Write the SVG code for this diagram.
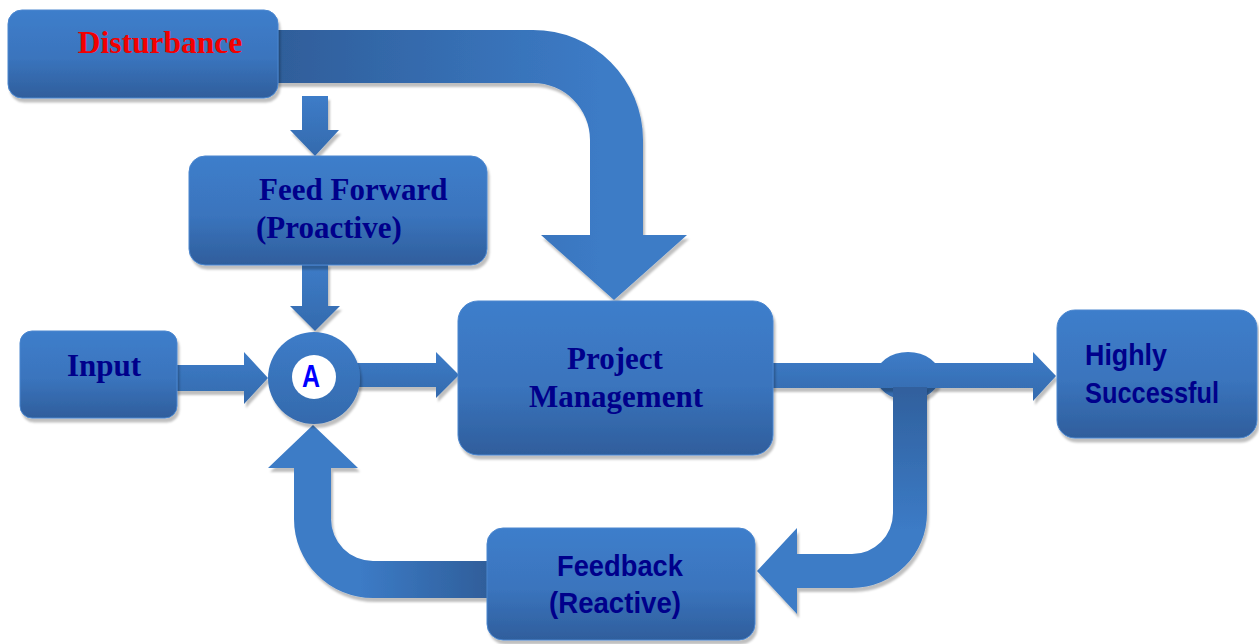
<svg xmlns="http://www.w3.org/2000/svg" width="1259" height="644" viewBox="0 0 1259 644">
<style>
.box{fill:url(#boxg);stroke:#4a86cf;stroke-width:1;filter:url(#sh)}
.arr{fill:url(#arrg);filter:url(#sh)}
.serif{font-family:"Liberation Serif","Times New Roman",serif;font-weight:bold;font-size:31px;fill:#00008b}
.narrow{font-family:"Liberation Sans Narrow","Liberation Sans",Arial,sans-serif;font-weight:bold;font-size:30px;fill:#00008b}
</style>
<defs>
<filter id="sh" x="-10%" y="-10%" width="130%" height="130%">
<feDropShadow dx="2" dy="4" stdDeviation="1.2" flood-color="#000" flood-opacity="0.25"/>
</filter>
<linearGradient id="boxg" x1="0" y1="0" x2="0" y2="1">
<stop offset="0" stop-color="#3e7ecb"/>
<stop offset="0.55" stop-color="#3a74bd"/>
<stop offset="1" stop-color="#2f5e9c"/>
</linearGradient>
<linearGradient id="arrg" x1="0" y1="0" x2="0" y2="1">
<stop offset="0" stop-color="#3d7cc8"/>
<stop offset="1" stop-color="#346aad"/>
</linearGradient>
<linearGradient id="bigg" gradientUnits="userSpaceOnUse" x1="278" y1="0" x2="600" y2="0">
<stop offset="0" stop-color="#2f5e9a"/>
<stop offset="1" stop-color="#3c7bc6"/>
</linearGradient>
<linearGradient id="fbv" gradientUnits="userSpaceOnUse" x1="0" y1="387" x2="0" y2="530">
<stop offset="0" stop-color="#30609d"/>
<stop offset="1" stop-color="#3c7bc6"/>
</linearGradient>
<linearGradient id="fbh" gradientUnits="userSpaceOnUse" x1="489" y1="0" x2="360" y2="0">
<stop offset="0" stop-color="#2f5e9a"/>
<stop offset="1" stop-color="#3c7bc6"/>
</linearGradient>
</defs>
<rect width="1259" height="644" fill="#ffffff"/>
<g id="connectors">
<path fill="url(#bigg)" filter="url(#sh)" d="M270,30 H533 A110,110 0 0 1 643,140 V235 H687 L614,300 L541,235 H590 V140 A57,57 0 0 0 533,83 H270 Z"/>
<path class="arr" d="M302,96 H328 V130 H339 L315,156 L290,130 H302 Z"/>
<path class="arr" d="M302,263 H328 V306 H340 L315,331 L290,306 H302 Z"/>
<path class="arr" d="M175,365 H244 V352 L268,378 L244,404 V391 H175 Z"/>
<path class="arr" d="M355,363 H436 V352 L459,375 L436,398 V387 H355 Z"/>
<ellipse cx="908" cy="376" rx="32" ry="24" fill="url(#arrg)" filter="url(#sh)"/>
<path class="arr" d="M770,363 H1033 V352 L1056,376 L1033,401 V388 H770 Z"/>
<path fill="url(#fbv)" filter="url(#sh)" d="M893,387 H927 V513 A75,75 0 0 1 852,588 H797 V614 L757,571 L797,528 V554 H852 A41,41 0 0 0 893,513 Z"/>
<path fill="url(#fbh)" filter="url(#sh)" d="M489,561 H373 A42,42 0 0 1 331,519 V468 H358 L313,425 L268,468 H294 V519 A79,79 0 0 0 373,598 H489 Z"/>
</g>
<g id="disturbance">
<rect class="box" x="8" y="10" width="270" height="88" rx="14"/>
<text x="160" y="53" text-anchor="middle" class="serif" style="fill:#f20000;font-size:31.5px">Disturbance</text>
</g>
<g id="feedforward">
<rect class="box" x="189" y="156" width="298" height="109" rx="16"/>
<text x="259" y="200" class="serif">Feed Forward</text>
<text x="256" y="238" class="serif">(Proactive)</text>
</g>
<g id="input">
<rect class="box" x="20" y="331" width="157" height="87" rx="12"/>
<text x="67" y="376" class="serif">Input</text>
</g>
<g id="summing">
<circle cx="314" cy="378" r="46" fill="url(#arrg)" filter="url(#sh)"/>
<circle cx="314" cy="377" r="22" fill="#ffffff"/>
<text x="311" y="387" text-anchor="middle" class="narrow" style="fill:#0000ff;font-size:32px" textLength="18" lengthAdjust="spacingAndGlyphs">A</text>
</g>
<g id="project">
<rect class="box" x="458" y="301" width="315" height="154" rx="20"/>
<text x="615" y="369" text-anchor="middle" class="serif">Project</text>
<text x="616" y="407" text-anchor="middle" class="serif">Management</text>
</g>
<g id="success">
<rect class="box" x="1057" y="310" width="200" height="128" rx="18"/>
<text x="1085" y="365" class="narrow" textLength="82" lengthAdjust="spacingAndGlyphs">Highly</text>
<text x="1085" y="403" class="narrow" textLength="134" lengthAdjust="spacingAndGlyphs">Successful</text>
</g>
<g id="feedback">
<rect class="box" x="487" y="528" width="268" height="112" rx="16"/>
<text x="557" y="576" class="narrow" textLength="126" lengthAdjust="spacingAndGlyphs">Feedback</text>
<text x="549" y="613" class="narrow" textLength="132" lengthAdjust="spacingAndGlyphs">(Reactive)</text>
</g>
</svg>
